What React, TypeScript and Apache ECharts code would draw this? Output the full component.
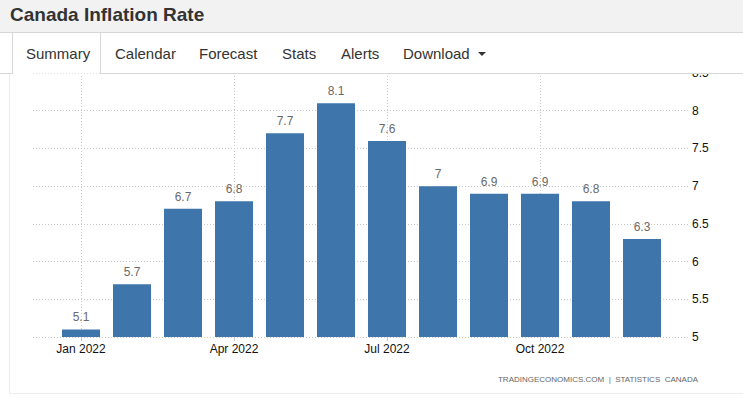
import React, { useEffect, useRef } from "react";
import * as echarts from "echarts";

const months = ["Jan", "Feb", "Mar", "Apr", "May", "Jun", "Jul", "Aug", "Sep", "Oct", "Nov", "Dec"];
const year = "2022";
const inflation = [5.1, 5.7, 6.7, 6.8, 7.7, 8.1, 7.6, 7.0, 6.9, 6.9, 6.8, 6.3];
const yMin = 5;
const yMax = 8.5;
const yStep = 0.5;
const tabs = [
  { label: "Summary", x: 26 },
  { label: "Calendar", x: 115 },
  { label: "Forecast", x: 199 },
  { label: "Stats", x: 282 },
  { label: "Alerts", x: 341 },
  { label: "Download", x: 403 },
];
const title = "Canada Inflation Rate";
const footer = "TRADINGECONOMICS.COM  |  STATISTICS  CANADA";

const FONT = "'Liberation Sans', Arial, Helvetica, sans-serif";
const GRID_LINE = { color: "#c9c9c9", type: [1, 2] as any, width: 1 };

export default function App() {
  const ref = useRef<HTMLDivElement>(null);
  useEffect(() => {
    document.body.style.margin = "0";
    const chart = echarts.init(ref.current!, null, { renderer: "svg" });
    const top = 73;
    const bottom = 62;
    const categories = months.map((m) => `${m} ${year}`);
    chart.setOption({
      animation: false,
      backgroundColor: "#ffffff",
      textStyle: { fontFamily: FONT },
      grid: [
        { left: 33, right: 55, top, bottom },
        { left: 55.5, right: 75.5, top, bottom },
        { left: 81, right: 101, top, bottom },
      ],
      xAxis: [
        { gridIndex: 0, type: "value", min: 0, max: 1, show: false },
        {
          gridIndex: 1,
          type: "category",
          data: categories,
          boundaryGap: true,
          axisLine: { show: false },
          axisTick: { show: false },
          axisLabel: { show: false },
          splitLine: { show: false },
        },
        {
          gridIndex: 2,
          type: "category",
          data: categories,
          boundaryGap: false,
          axisLine: { show: false },
          axisTick: { show: true, interval: 2, length: 4, lineStyle: { color: "#c9c9c9" } },
          axisLabel: {
            show: true,
            interval: 2,
            color: "#111",
            fontSize: 12,
            fontFamily: FONT,
            margin: 6,
          },
          splitLine: { show: true, interval: 2, lineStyle: GRID_LINE },
        },
      ],
      yAxis: [
        {
          gridIndex: 0,
          type: "value",
          position: "right",
          min: yMin,
          max: yMax,
          interval: yStep,
          axisLine: { show: false },
          axisTick: { show: false },
          axisLabel: { color: "#111", fontSize: 12, fontFamily: FONT, margin: 4 },
          splitLine: { show: true, lineStyle: GRID_LINE },
        },
        { gridIndex: 1, type: "value", min: yMin, max: yMax, show: false },
        { gridIndex: 2, type: "value", min: yMin, max: yMax, show: false },
      ],
      series: [
        {
          type: "bar",
          xAxisIndex: 1,
          yAxisIndex: 1,
          data: inflation,
          barWidth: 38,
          itemStyle: { color: "#3e76ac" },
          label: {
            show: true,
            position: "top",
            distance: 6,
            color: "#6a6a6a",
            fontSize: 12,
            fontFamily: FONT,
          },
        },
      ],
      graphic: [
        { type: "rect", z: 100, shape: { x: 0, y: 0, width: 743, height: 32 }, style: { fill: "#f2f2f2" } },
        { type: "rect", z: 100, shape: { x: 0, y: 32, width: 743, height: 41.5 }, style: { fill: "#ffffff" } },
        { type: "line", z: 101, shape: { x1: 0, y1: 32.5, x2: 743, y2: 32.5 }, style: { stroke: "#d6d6d6", lineWidth: 1 } },
        { type: "line", z: 101, shape: { x1: 0, y1: 73.5, x2: 12.5, y2: 73.5 }, style: { stroke: "#d6d6d6", lineWidth: 1 } },
        { type: "line", z: 101, shape: { x1: 100.5, y1: 73.5, x2: 743, y2: 73.5 }, style: { stroke: "#d6d6d6", lineWidth: 1 } },
        { type: "line", z: 101, shape: { x1: 12.5, y1: 32.5, x2: 12.5, y2: 74 }, style: { stroke: "#d6d6d6", lineWidth: 1 } },
        { type: "line", z: 101, shape: { x1: 100.5, y1: 32.5, x2: 100.5, y2: 74 }, style: { stroke: "#d6d6d6", lineWidth: 1 } },
        { type: "line", z: 101, shape: { x1: 9.5, y1: 74, x2: 9.5, y2: 393.5 }, style: { stroke: "#ececec", lineWidth: 1 } },
        { type: "line", z: 101, shape: { x1: 9.5, y1: 393.5, x2: 743, y2: 393.5 }, style: { stroke: "#ececec", lineWidth: 1 } },
        {
          type: "text",
          z: 102,
          x: 10,
          y: 14,
          style: { text: title, font: `bold 19px ${FONT}`, fill: "#333", textVerticalAlign: "middle" },
        },
        ...tabs.map((t) => ({
          type: "text",
          z: 102,
          x: t.x,
          y: 53,
          style: { text: t.label, font: `15px ${FONT}`, fill: "#333", textVerticalAlign: "middle" },
        })),
        {
          type: "polygon",
          z: 102,
          shape: { points: [[478, 52], [486, 52], [482, 56]] },
          style: { fill: "#333" },
        },
        {
          type: "text",
          z: 102,
          x: 698,
          y: 379,
          style: {
            text: footer,
            font: `8px ${FONT}`,
            fill: "#666",
            textAlign: "right",
            textVerticalAlign: "middle",
          },
        },
      ],
    });
    return () => chart.dispose();
  }, []);
  return <div ref={ref} style={{ width: 743, height: 399, position: "absolute", left: 0, top: 0 }} />;
}
